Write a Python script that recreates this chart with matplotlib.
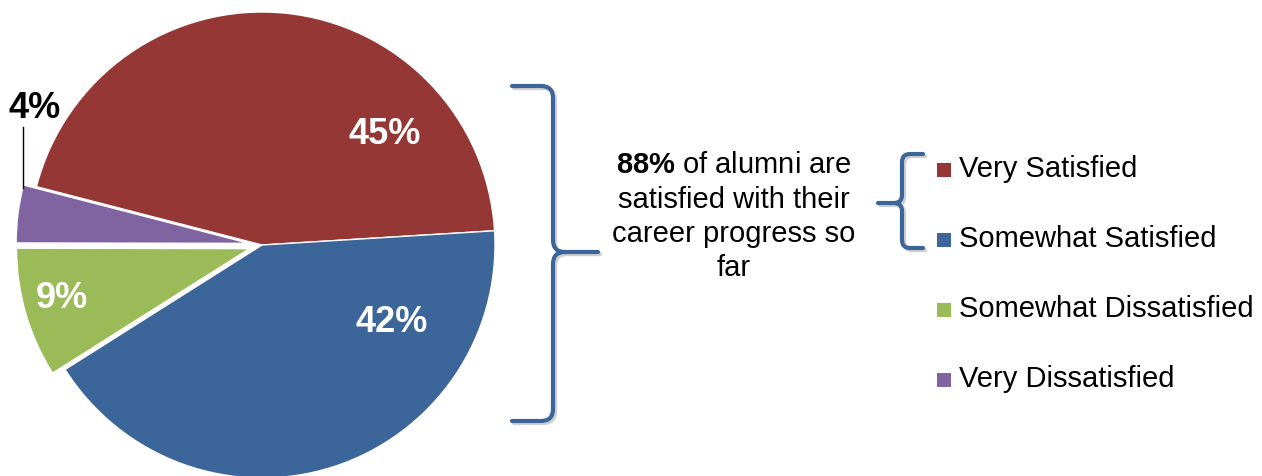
import matplotlib
matplotlib.use('Agg')
import matplotlib.pyplot as plt
from matplotlib.path import Path
from matplotlib.patches import PathPatch, Rectangle
import matplotlib.patheffects as pe

categories = ['Very Satisfied', 'Somewhat Satisfied', 'Somewhat Dissatisfied', 'Very Dissatisfied']
shares = [45, 42, 9, 4]
colors = ['#953735', '#3C6699', '#9BBB59', '#8064A2']
label_colors = ['white', 'white', 'white', 'black']
satisfied_total = 88
callout_lines = ['of alumni are', 'satisfied with their', 'career progress so', 'far']

W, H = 1262, 476
plt.rcParams['font.family'] = ['Liberation Sans', 'DejaVu Sans']
plt.rcParams['mathtext.fontset'] = 'custom'
plt.rcParams['mathtext.rm'] = 'Liberation Sans'
plt.rcParams['mathtext.bf'] = 'Liberation Sans:bold'

fig = plt.figure(figsize=(W / 100, H / 100), dpi=100)
ax = fig.add_axes([0, 0, 1, 1])


def py(y):
    # pixel row (from top) -> data y (from bottom)
    return H - y


# the two dissatisfied slices are pulled out to the left
wedges, _ = ax.pie(shares, colors=colors, startangle=165.5, counterclock=False,
                   center=(262, py(245)), radius=233, explode=[0, 0, 13, 13],
                   frame=True, wedgeprops=dict(edgecolor='white', linewidth=1))
ax.set_xlim(0, W)
ax.set_ylim(0, H)
ax.axis('off')

# slice labels
label_pos = [(385, 135), (392, 322), (62, 298), (35, 108)]
for v, (x, y), c in zip(shares, label_pos, label_colors):
    ax.text(x, py(y), f'{v}%', color=c, fontsize=26, fontweight='bold',
            ha='center', va='center')
ax.plot([22.5, 22.5], [py(127), py(188)], color='black', lw=1)


def brace(x_arm, x_spine, x_tip, y_top, y_mid, y_bot, r):
    s = 1 if x_tip > x_spine else -1
    verts = [(x_arm, y_top), (x_spine - s * r, y_top),
             (x_spine, y_top), (x_spine, y_top + r),
             (x_spine, y_mid - r),
             (x_spine, y_mid), (x_spine + s * r, y_mid),
             (x_tip, y_mid),
             (x_spine + s * r, y_mid),
             (x_spine, y_mid), (x_spine, y_mid + r),
             (x_spine, y_bot - r),
             (x_spine, y_bot), (x_spine - s * r, y_bot),
             (x_arm, y_bot)]
    codes = [Path.MOVETO, Path.LINETO,
             Path.CURVE3, Path.CURVE3,
             Path.LINETO,
             Path.CURVE3, Path.CURVE3,
             Path.LINETO,
             Path.MOVETO,
             Path.CURVE3, Path.CURVE3,
             Path.LINETO,
             Path.CURVE3, Path.CURVE3,
             Path.LINETO]
    verts = [(x, py(y)) for x, y in verts]
    p = PathPatch(Path(verts, codes), fill=False, edgecolor='#3C6699', lw=3,
                  capstyle='round', joinstyle='round')
    p.set_path_effects([pe.SimpleLineShadow(offset=(1.5, -1.5), shadow_color='0.4', alpha=0.3),
                        pe.Normal()])
    ax.add_patch(p)


brace(512, 553, 598, 86, 252, 421, 12)
brace(923, 902, 878, 154, 203, 248, 8)

# callout text
ax.text(734, py(173), r'$\mathbf{%d\%%}$ ' % satisfied_total + callout_lines[0],
        fontsize=21, ha='center', va='baseline')
for i, line in enumerate(callout_lines[1:], start=1):
    ax.text(734, py(173 + 34.5 * i), line, fontsize=21, ha='center', va='baseline')

# legend
for i, (cat, c) in enumerate(zip(categories, colors)):
    base = 177 + 70 * i
    ax.add_patch(Rectangle((937, py(base)), 14, 14, facecolor=c, edgecolor='none'))
    ax.text(959, py(base), cat, fontsize=21, ha='left', va='baseline')

fig.savefig('out.png', dpi=100)
